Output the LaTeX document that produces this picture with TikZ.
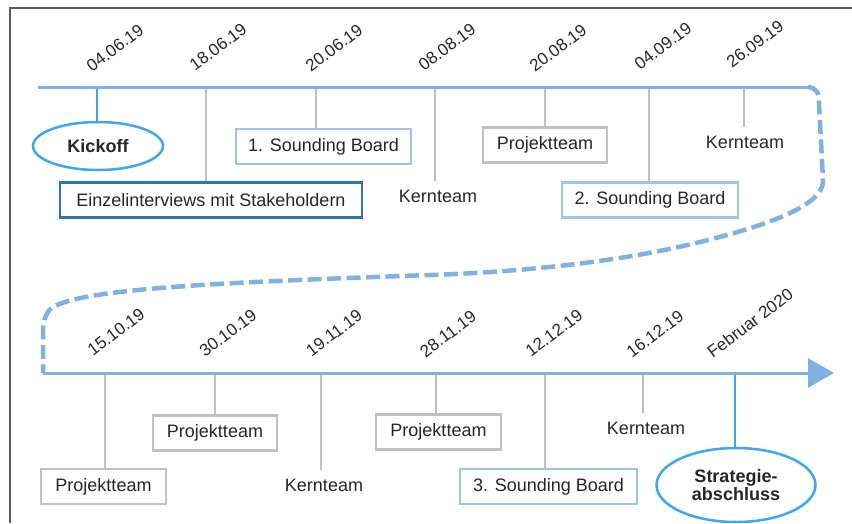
\documentclass[tikz,border=0pt]{standalone}
\usepackage{fontspec}
\setmainfont{Liberation Sans}
\usetikzlibrary{shapes.geometric,arrows.meta}
\definecolor{tl}{HTML}{7FB2E3}
\definecolor{brightblue}{HTML}{3EA6F2}
\definecolor{darkblue}{HTML}{2E75B6}
\definecolor{lightblue}{HTML}{9DC3E6}
\definecolor{boxgray}{HTML}{C0C0C0}
\definecolor{txt}{HTML}{262626}
\definecolor{framegray}{HTML}{595959}
\begin{document}
\begin{tikzpicture}[x=1pt,y=-1pt,
  every node/.style={font=\fontsize{18}{18}\selectfont, text=txt},
  datelbl/.style={rotate=37, font=\fontsize{17}{17}\selectfont, inner sep=0pt},
  tickln/.style={draw=boxgray, line width=2pt},
  tickblue/.style={draw=brightblue, line width=2.5pt},
  boxbase/.style={draw, line width=2.2pt, minimum height=35pt, inner xsep=12pt, fill=white},
  lightbox/.style={boxbase, draw=lightblue},
  darkbox/.style={boxbase, draw=darkblue},
  graybox/.style={boxbase, draw=boxgray},
  milestone/.style={ellipse, draw=brightblue, line width=2.5pt, inner sep=0pt, align=center, font=\fontsize{18}{18}\selectfont\bfseries},
  plaintext/.style={inner xsep=2pt, inner ysep=9pt},
  timeline/.style={draw=tl, line width=3pt},
  dashline/.style={draw=tl, line width=4.5pt, dash pattern=on 14pt off 5.5pt},
  frameline/.style={draw=framegray, line width=1.5pt}]
\useasboundingbox (0,0) rectangle (852,523);
\draw[frameline] (10,523) -- (10,8) -- (852,8);

% timeline coordinates
\coordinate (t0) at (38,87);
\coordinate (tend) at (808,87);
\coordinate (t1) at (97,87);
\coordinate (t2) at (206,87);
\coordinate (t3) at (316,87);
\coordinate (t4) at (435,87);
\coordinate (t5) at (545,87);
\coordinate (t6) at (649,87);
\coordinate (t7) at (744,87);
\coordinate (b0) at (43,373);
\coordinate (bend) at (834,373);
\coordinate (b1) at (105,373);
\coordinate (b2) at (215,373);
\coordinate (b3) at (321,373);
\coordinate (b4) at (436,373);
\coordinate (b5) at (545,373);
\coordinate (b6) at (643,373);
\coordinate (b7) at (735,373);

% top nodes
\node[milestone, minimum width=130pt, minimum height=48pt] (kick) at (98,146) {Kickoff};
\node[darkbox, minimum width=302pt] (einzel) at (211,200) {Einzelinterviews mit Stakeholdern};
\node[lightbox, minimum width=175pt] (sb1) at (323.5,146.5) {1. Sounding Board};
\node[plaintext] (kern1) at (438,196) {Kernteam};
\node[graybox, minimum width=124pt] (proj1) at (545,145) {Projektteam};
\node[lightbox, minimum width=176pt] (sb2) at (650,200) {2. Sounding Board};
\node[plaintext] (kern2) at (745,142) {Kernteam};

% bottom nodes
\node[graybox, minimum width=125pt] (proj2) at (103.5,486.5) {Projektteam};
\node[graybox, minimum width=124pt] (proj3) at (215,433) {Projektteam};
\node[plaintext] (kern3) at (324,485) {Kernteam};
\node[graybox, minimum width=125pt] (proj4) at (438.5,432) {Projektteam};
\node[lightbox, minimum width=177pt] (sb3) at (548.5,486.5) {3. Sounding Board};
\node[plaintext] (kern4) at (646,428) {Kernteam};
\node[milestone, minimum width=159pt, minimum height=74pt] (strat) at (736,485) {Strategie-\\abschluss};

% ticks
\draw[tickblue] (t1) -- (t1 |- kick.north);
\draw[tickln] (t2) -- (t2 |- einzel.north);
\draw[tickln] (t3) -- (t3 |- sb1.north);
\draw[tickln] (t4) -- (t4 |- kern1.north);
\draw[tickln] (t5) -- (t5 |- proj1.north);
\draw[tickln] (t6) -- (t6 |- sb2.north);
\draw[tickln] (t7) -- (t7 |- kern2.north);
\draw[tickln] (b1) -- (b1 |- proj2.north);
\draw[tickln] (b2) -- (b2 |- proj3.north);
\draw[tickln] (b3) -- (b3 |- kern3.north);
\draw[tickln] (b4) -- (b4 |- proj4.north);
\draw[tickln] (b5) -- (b5 |- sb3.north);
\draw[tickln] (b6) -- (b6 |- kern4.north);
\draw[tickblue] (b7) -- (b7 |- strat.north);

% timeline
\draw[timeline] (t0) -- (tend);
\draw[dashline] (tend) .. controls (817,88) and (819,93) .. (819,103) -- (823,180)
  .. controls (824,200) and (790,220) .. (700,242)
  .. controls (620,262) and (520,272) .. (430,275)
  .. controls (200,283) and (60,290) .. (48,312)
  .. controls (43,320) and (43,325) .. (43,335) -- (b0);
\draw[timeline, -{Triangle[length=26pt,width=29pt]}] (b0) -- (bend);

% dates
\node[datelbl] (d1) at (115,48) {04.06.19};
\node[datelbl] (d2) at (218,47) {18.06.19};
\node[datelbl] (d3) at (334,48) {20.06.19};
\node[datelbl] (d4) at (447,47) {08.08.19};
\node[datelbl] (d5) at (558,48) {20.08.19};
\node[datelbl] (d6) at (663,46) {04.09.19};
\node[datelbl] (d7) at (755,44) {26.09.19};
\node[datelbl] (e1) at (116,332) {15.10.19};
\node[datelbl] (e2) at (228,333) {30.10.19};
\node[datelbl] (e3) at (334,333) {19.11.19};
\node[datelbl] (e4) at (448,334) {28.11.19};
\node[datelbl] (e5) at (554,333) {12.12.19};
\node[datelbl] (e6) at (655,334) {16.12.19};
\node[datelbl] (e7) at (750,323) {Februar 2020};
\end{tikzpicture}
\end{document}
